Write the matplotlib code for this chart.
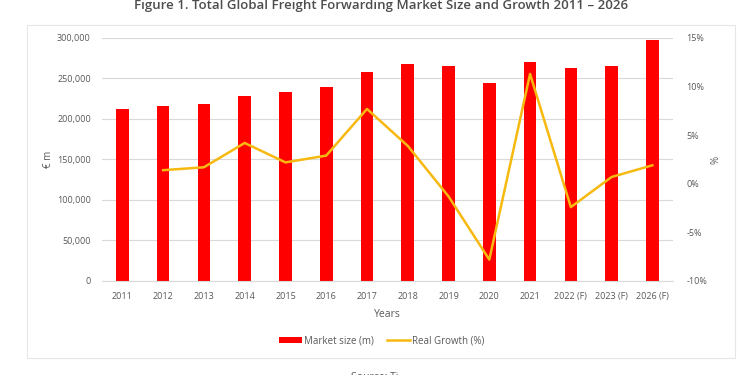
import matplotlib
matplotlib.use("Agg")
import matplotlib.pyplot as plt
import matplotlib.ticker as mticker
from matplotlib.patches import Rectangle
import numpy as np

# donnees
annees = ['2011', '2012', '2013', '2014', '2015', '2016', '2017', '2018',
          '2019', '2020', '2021', '2022 (F)', '2023 (F)', '2026 (F)']
taille_marche = [212000, 215500, 219000, 228000, 233000, 240000, 258000, 268500,
                 265000, 244500, 270000, 263000, 265000, 297000]
croissance = [np.nan, 1.4, 1.7, 4.2, 2.2, 2.9, 7.7, 3.9,
              -1.3, -7.8, 11.3, -2.4, 0.7, 1.9]

ROUGE = '#FF0000'
JAUNE = '#F7B90F'
GRIS_TEXTE = '#595959'
GRIS_GRILLE = '#D9D9D9'

plt.rcParams['font.family'] = ['Open Sans', 'DejaVu Sans']

fig = plt.figure(figsize=(7.5, 3.75), dpi=100)
ax1 = fig.add_axes([0.136, 0.2507, 0.761, 0.648])

x = np.arange(len(annees))
ax1.bar(x, taille_marche, width=0.31, color=ROUGE, label='Market size (m)', zorder=2)
ax1.set_ylim(0, 300000)
ax1.set_xlim(-0.5, len(annees) - 0.5)
ax1.set_yticks(range(0, 300001, 50000))
ax1.yaxis.set_major_formatter(mticker.FuncFormatter(lambda v, p: f"{int(v):,}"))
ax1.set_xticks(x)
ax1.set_xticklabels(annees)
ax1.grid(axis='y', color=GRIS_GRILLE, linewidth=0.8, zorder=0)
ax1.set_axisbelow(True)
ax1.tick_params(length=0, labelsize=6.5, colors=GRIS_TEXTE, pad=8)
ax1.set_ylabel("€ m", fontsize=7, color=GRIS_TEXTE, labelpad=2)
ax1.set_xlabel("Years", fontsize=7.5, color=GRIS_TEXTE, labelpad=6)
for s in ax1.spines.values():
    s.set_visible(False)
ax1.spines['bottom'].set_visible(True)
ax1.spines['bottom'].set_color(GRIS_GRILLE)

# deuxieme axe pour la croissance
ax2 = ax1.twinx()
ax2.plot(x, croissance, color=JAUNE, linewidth=1.8, label='Real Growth (%)', zorder=3)
ax2.set_ylim(-10, 15)
ax2.set_yticks(range(-10, 16, 5))
ax2.yaxis.set_major_formatter(mticker.FuncFormatter(lambda v, p: f"{int(v)}%"))
ax2.tick_params(length=0, labelsize=6.5, colors=GRIS_TEXTE, pad=10)
ax2.set_ylabel("%", fontsize=7, color=GRIS_TEXTE, labelpad=2)
for s in ax2.spines.values():
    s.set_visible(False)

h1, l1 = ax1.get_legend_handles_labels()
h2, l2 = ax2.get_legend_handles_labels()
fig.legend(h1 + h2, l1 + l2, loc='center', bbox_to_anchor=(0.509, 1 - 341 / 375),
           ncol=2, frameon=False, fontsize=7, labelcolor=GRIS_TEXTE,
           handlelength=2.4, handleheight=0.6, columnspacing=1.3, handletextpad=0.2)

# cadre autour du graphique
fig.patches.append(Rectangle((27 / 750, 1 - 358 / 375), 708 / 750, 333 / 375,
                             transform=fig.transFigure, fill=False,
                             edgecolor='#E6E6E6', linewidth=0.8))

fig.text(0.508, 1 - 6 / 375,
         "Figure 1. Total Global Freight Forwarding Market Size and Growth 2011 – 2026",
         ha='center', va='center', fontsize=9.5, fontweight='semibold', color='#4D4D4D')
fig.text(0.5, 1 - 378 / 375, "Source: Ti", ha='center', va='center',
         fontsize=7.5, color=GRIS_TEXTE)

fig.savefig("out.png", dpi=100)
